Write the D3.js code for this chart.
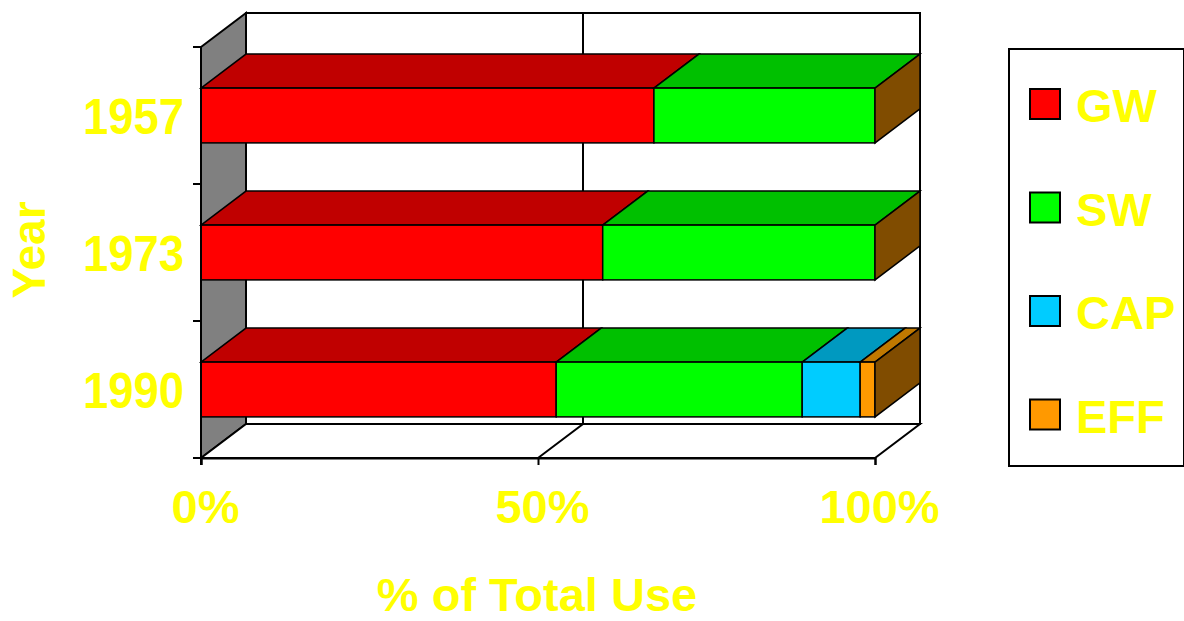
<!DOCTYPE html>
<html>
<head>
<meta charset="utf-8">
<script src="https://cdn.jsdelivr.net/npm/d3@7"></script>
<style>
  body { margin: 0; background: #fff; }
  text { font-family: "Liberation Sans", Arial, sans-serif; font-weight: bold; fill: #ffff00; }
</style>
</head>
<body>
<div id="chart"></div>
<script>
// data (% of total use)
var years = ["1957", "1973", "1990"];
var series = ["GW", "SW", "CAP", "EFF"];
var gw  = [67.2, 59.6, 52.7];
var sw  = [32.8, 40.4, 36.5];
var cap = [0, 0, 8.6];
var eff = [0, 0, 2.2];
var xTicks = [0, 50, 100];

var front = ["#ff0000", "#00ff00", "#00ccff", "#ff9900"],
    top_  = ["#c00000", "#00c000", "#0099c0", "#c07800"],
    sideColor = "#804c00";

var width = 1184, height = 621,
    dx = 45, dy = 34;   // depth of the 3d box

var svg = d3.select("#chart").append("svg")
    .attr("width", width)
    .attr("height", height);

var x = d3.scaleLinear().domain([0, 100]).range([201, 875]);
var y = d3.scaleBand().domain(years).range([47, 458])
    .paddingInner(0.6).paddingOuter(0.3);

var x0 = x.range()[0], x1 = x.range()[1],
    yTop = y.range()[0], yBot = y.range()[1];

//remap data into stacked segments
var table = years.map(function(yr, i) {
  return { year: yr, GW: gw[i], SW: sw[i], CAP: cap[i], EFF: eff[i] };
});
var stacked = d3.stack().keys(series)(table);

function pts(a) { return a.map(function(p) { return p.join(","); }).join(" "); }

// back wall
svg.append("rect")
  .attr("x", x0 + dx).attr("y", yTop - dy)
  .attr("width", x1 - x0).attr("height", yBot - yTop)
  .attr("fill", "#fff").attr("stroke", "#000").attr("stroke-width", 2);

// left wall
svg.append("polygon")
  .attr("points", pts([[x0, yTop], [x0 + dx, yTop - dy], [x0 + dx, yBot - dy], [x0, yBot]]))
  .attr("fill", "#808080").attr("stroke", "#000").attr("stroke-width", 2);

// floor
svg.append("polygon")
  .attr("points", pts([[x0, yBot], [x0 + dx, yBot - dy], [x1 + dx, yBot - dy], [x1, yBot]]))
  .attr("fill", "#fff").attr("stroke", "#000").attr("stroke-width", 2);

// gridlines (wall + floor), inner ticks only
var inner = xTicks.filter(function(t) { return t > 0 && t < 100; });
svg.selectAll(".grid").data(inner).enter().append("polyline")
  .attr("points", function(t) {
    return pts([[x(t), yBot], [x(t) + dx, yBot - dy], [x(t) + dx, yTop - dy]]);
  })
  .attr("fill", "none").attr("stroke", "#000").attr("stroke-width", 2);

// bars
var groups = svg.selectAll(".series").data(stacked).enter().append("g");

groups.each(function(s, si) {
  var g = d3.select(this);
  s.forEach(function(d) {
    var yr = d.data.year,
        a = x(d[0]), b = x(d[1]),
        t = y(yr), h = y.bandwidth();
    if (d[1] - d[0] <= 0) return;
    g.append("polygon")
      .attr("points", pts([[a, t], [a + dx, t - dy], [b + dx, t - dy], [b, t]]))
      .attr("fill", top_[si]).attr("stroke", "#000").attr("stroke-width", 1.5);
    g.append("rect")
      .attr("x", a).attr("y", t).attr("width", b - a).attr("height", h)
      .attr("fill", front[si]).attr("stroke", "#000").attr("stroke-width", 1.5);
  });
});

// right side face of each bar (last series colour)
svg.selectAll(".side").data(years).enter().append("polygon")
  .attr("points", function(yr) {
    var t = y(yr), bb = t + y.bandwidth();
    return pts([[x1, t], [x1 + dx, t - dy], [x1 + dx, bb - dy], [x1, bb]]);
  })
  .attr("fill", sideColor).attr("stroke", "#000").attr("stroke-width", 1.5);

// x axis
var xAxis = svg.append("g")
  .attr("transform", "translate(0," + yBot + ")")
  .call(d3.axisBottom(x).tickValues(xTicks).tickSize(7).tickPadding(25)
    .tickFormat(function(d) { return d + "%"; }));
xAxis.select(".domain").attr("stroke", "#000").attr("stroke-width", 2);
xAxis.selectAll(".tick line").attr("stroke", "#000").attr("stroke-width", 2);
xAxis.selectAll(".tick text")
  .attr("font-size", 47).attr("font-family", null).attr("fill", "#ffff00")
  .attr("dx", 4);

// y axis: ticks sit on band boundaries, labels at band centres
var step = y.step();
var bounds = d3.range(years.length + 1).map(function(i) { return yTop + i * step; });
svg.append("line")
  .attr("x1", x0).attr("x2", x0).attr("y1", yTop).attr("y2", yBot + 7)
  .attr("stroke", "#000").attr("stroke-width", 2);
svg.selectAll(".ytick").data(bounds).enter().append("line")
  .attr("x1", x0 - 8).attr("x2", x0).attr("y1", function(d) { return d; }).attr("y2", function(d) { return d; })
  .attr("stroke", "#000").attr("stroke-width", 2);
svg.selectAll(".ylab").data(years).enter().append("text")
  .attr("x", x0 - 17)
  .attr("y", function(d) { return y(d) + y.bandwidth() / 2 + 18; })
  .attr("text-anchor", "end")
  .attr("font-size", 50)
  .attr("textLength", 101)
  .attr("lengthAdjust", "spacingAndGlyphs")
  .text(function(d) { return d; });

// axis titles
svg.append("text")
  .attr("x", 537).attr("y", 611)
  .attr("text-anchor", "middle").attr("font-size", 47)
  .text("% of Total Use");
svg.append("text")
  .attr("transform", "translate(45,250) rotate(-90)")
  .attr("text-anchor", "middle").attr("font-size", 46)
  .text("Year");

// legend
var legend = svg.append("g");
legend.append("rect")
  .attr("x", 1009).attr("y", 49).attr("width", 175).attr("height", 417)
  .attr("fill", "#fff").attr("stroke", "#000").attr("stroke-width", 2);
var item = legend.selectAll(".item").data(series).enter().append("g")
  .attr("transform", function(d, i) { return "translate(1030," + (89 + i * 103.5) + ")"; });
item.append("rect")
  .attr("width", 30).attr("height", 30)
  .attr("fill", function(d, i) { return front[i]; })
  .attr("stroke", "#000").attr("stroke-width", 2);
item.append("text")
  .attr("x", 46).attr("y", 33)
  .attr("font-size", 47)
  .text(function(d) { return d; });
</script>
</body>
</html>
